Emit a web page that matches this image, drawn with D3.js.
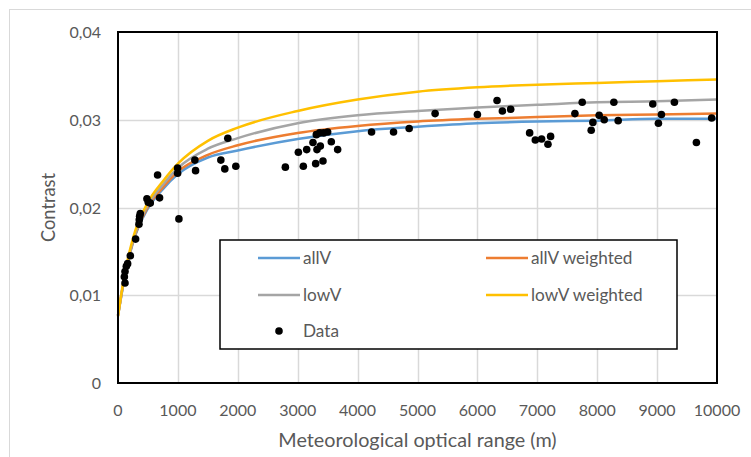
<!DOCTYPE html>
<html>
<head>
<meta charset="utf-8">
<title>Contrast vs MOR</title>
<style>
  body { margin: 0; background: #fff; }
  svg text { font-family: Lato, "Open Sans", sans-serif; fill: #595959; }
</style>
</head>
<body>
<script src="https://cdnjs.cloudflare.com/ajax/libs/d3/7.8.5/d3.min.js"></script>
<script>
// fitted curves at these ranges (m)
var curveV      = [0, 50, 100, 250, 500, 750, 1000, 1500, 2000, 3000, 4000, 5000, 6000, 7000, 8000, 9000, 10000];
var allV        = [0.0077, 0.0097, 0.0117, 0.0160, 0.0199, 0.0221, 0.0238, 0.0257, 0.0265, 0.0278, 0.0287, 0.0292, 0.0296, 0.0298, 0.0299, 0.0301, 0.0301];
var allVWeighted= [0.0077, 0.0098, 0.0118, 0.0161, 0.0201, 0.0223, 0.0241, 0.0260, 0.0271, 0.0285, 0.0293, 0.0298, 0.0301, 0.0303, 0.0305, 0.0306, 0.0307];
var lowV        = [0.0077, 0.0098, 0.0118, 0.0162, 0.0203, 0.0226, 0.0245, 0.0267, 0.0279, 0.0296, 0.0305, 0.0310, 0.0314, 0.0317, 0.0320, 0.0321, 0.0323];
var lowVWeighted= [0.0076, 0.0099, 0.0120, 0.0165, 0.0206, 0.0230, 0.0250, 0.0276, 0.0291, 0.0310, 0.0323, 0.0332, 0.0337, 0.0340, 0.0342, 0.0344, 0.0346];

// measured points
var dataV = [106, 117, 117, 139, 161, 206, 294, 350, 355, 361, 372, 483, 505, 539, 661, 694,
             995, 995, 1017, 1283, 1295, 1717, 1783, 1833, 1967,
             2794, 3011, 3094, 3150, 3255, 3300, 3311, 3322, 3367, 3378, 3422, 3433, 3500, 3561, 3667,
             4233, 4600, 4861, 5294, 6000, 6328, 6417, 6556,
             6872, 6967, 7072, 7178, 7222, 7628, 7750, 7900, 7928, 8033, 8117, 8278, 8350,
             8928, 9022, 9072, 9289, 9656, 9911];
var dataC = [0.0121, 0.0114, 0.0127, 0.0133, 0.0136, 0.0145, 0.0164, 0.0181, 0.0186, 0.0190, 0.0193, 0.0210, 0.0206, 0.0205, 0.0237, 0.0211,
             0.0245, 0.0239, 0.0187, 0.0254, 0.0242, 0.0254, 0.0244, 0.0279, 0.0247,
             0.0246, 0.0263, 0.0247, 0.0266, 0.0274, 0.0250, 0.0283, 0.0266, 0.0285, 0.0270, 0.0253, 0.0285, 0.0286, 0.0275, 0.0266,
             0.0286, 0.0286, 0.0290, 0.0307, 0.0306, 0.0322, 0.0310, 0.0312,
             0.0285, 0.0277, 0.0278, 0.0272, 0.0281, 0.0307, 0.0320, 0.0288, 0.0297, 0.0305, 0.0300, 0.0320, 0.0299,
             0.0318, 0.0296, 0.0306, 0.0320, 0.0274, 0.0302];

var xTicks = [0, 1000, 2000, 3000, 4000, 5000, 6000, 7000, 8000, 9000, 10000];
var yTicks = [0, 0.01, 0.02, 0.03, 0.04];
var yTickLabels = ["0", "0,01", "0,02", "0,03", "0,04"];

var series = [
  { name: "allV", values: allV, color: "#5b9bd5" },
  { name: "allV weighted", values: allVWeighted, color: "#ed7d31" },
  { name: "lowV", values: lowV, color: "#a5a5a5" },
  { name: "lowV weighted", values: lowVWeighted, color: "#ffc000" }
];

var w = 751, h = 457;
var plotL = 118, plotR = 717, plotT = 32, plotB = 383;

var svg = d3.select("body").append("svg")
    .attr("width", w)
    .attr("height", h);

// chart area border (only top/left visible in the crop)
svg.append("rect")
    .attr("x", 9.5).attr("y", 9.5)
    .attr("width", 800).attr("height", 500)
    .attr("fill", "#fff")
    .attr("stroke", "#d9d9d9");

var x = d3.scaleLinear().domain([0, 10000]).range([plotL, plotR]);
var y = d3.scaleLinear().domain([0, 0.04]).range([plotB, plotT]);

// gridlines
svg.append("g").selectAll("line")
    .data(xTicks.slice(1, -1)).enter().append("line")
    .attr("x1", function(d) { return Math.round(x(d)) + 0.5; })
    .attr("x2", function(d) { return Math.round(x(d)) + 0.5; })
    .attr("y1", plotT).attr("y2", plotB)
    .attr("stroke", "#d9d9d9").attr("stroke-width", 1.5);
svg.append("g").selectAll("line")
    .data(yTicks.slice(1, -1)).enter().append("line")
    .attr("y1", function(d) { return Math.round(y(d)) + 0.5; })
    .attr("y2", function(d) { return Math.round(y(d)) + 0.5; })
    .attr("x1", plotL).attr("x2", plotR)
    .attr("stroke", "#d9d9d9").attr("stroke-width", 1.5);

// tick labels
svg.append("g").selectAll("text")
    .data(xTicks).enter().append("text")
    .attr("x", function(d) { return x(d); })
    .attr("y", 416)
    .attr("text-anchor", "middle")
    .attr("font-size", "16px")
    .text(function(d) { return d; });
svg.append("g").selectAll("text")
    .data(yTicks).enter().append("text")
    .attr("x", 101)
    .attr("y", function(d) { return y(d) + 6; })
    .attr("text-anchor", "end")
    .attr("font-size", "16px")
    .text(function(d, i) { return yTickLabels[i]; });

// axis titles
svg.append("text")
    .attr("x", (plotL + plotR) / 2).attr("y", 447)
    .attr("text-anchor", "middle")
    .attr("font-size", "19.8px")
    .text("Meteorological optical range (m)");
svg.append("text")
    .attr("transform", "translate(55," + ((plotT + plotB) / 2) + ") rotate(-90)")
    .attr("text-anchor", "middle")
    .attr("font-size", "18.3px")
    .text("Contrast");

// fitted curves
var line = d3.line()
    .x(function(d) { return x(d[0]); })
    .y(function(d) { return y(d[1]); })
    .curve(d3.curveMonotoneX);

svg.append("g").selectAll("path")
    .data(series).enter().append("path")
    .attr("d", function(s) { return line(curveV.map(function(v, i) { return [v, s.values[i]]; })); })
    .attr("fill", "none")
    .attr("stroke", function(s) { return s.color; })
    .attr("stroke-width", 2.5);

// data points
svg.append("g").selectAll("circle")
    .data(dataV).enter().append("circle")
    .attr("cx", function(d) { return x(d); })
    .attr("cy", function(d, i) { return y(dataC[i]); })
    .attr("r", 3.8)
    .attr("fill", "#000");

// plot frame
svg.append("rect")
    .attr("x", plotL).attr("y", plotT)
    .attr("width", plotR - plotL).attr("height", plotB - plotT)
    .attr("fill", "none")
    .attr("stroke", "#000").attr("stroke-width", 2);

// legend
var lg = svg.append("g");
lg.append("rect")
    .attr("x", 220).attr("y", 240)
    .attr("width", 457).attr("height", 109)
    .attr("fill", "#fff")
    .attr("stroke", "#000").attr("stroke-width", 1.5);

var legendPos = [[258, 258], [486, 258], [258, 295], [486, 295]];
series.forEach(function(s, i) {
  var p = legendPos[i];
  lg.append("line")
    .attr("x1", p[0]).attr("x2", p[0] + 42)
    .attr("y1", p[1]).attr("y2", p[1])
    .attr("stroke", s.color).attr("stroke-width", 2.5);
  lg.append("text")
    .attr("x", p[0] + 45).attr("y", p[1] + 6)
    .attr("font-size", "17.2px")
    .text(s.name);
});
lg.append("circle").attr("cx", 279).attr("cy", 331).attr("r", 3.8).attr("fill", "#000");
lg.append("text").attr("x", 303).attr("y", 337).attr("font-size", "17.2px").text("Data");
</script>
</body>
</html>
